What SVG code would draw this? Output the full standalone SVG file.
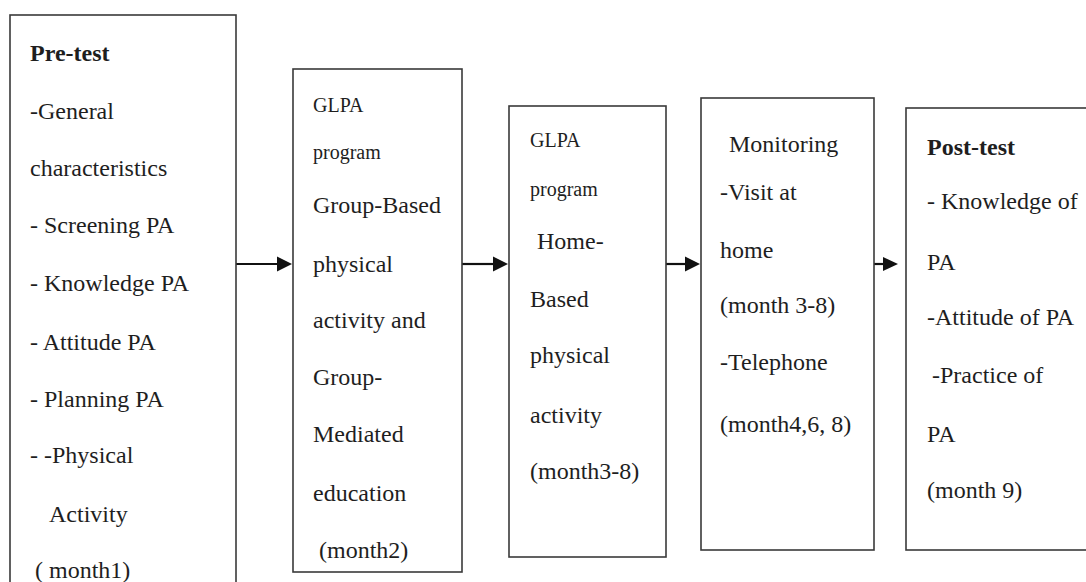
<svg xmlns="http://www.w3.org/2000/svg" width="1086" height="582" viewBox="0 0 1086 582">
<style>
.box{fill:#fff;stroke:#3a3a3a;stroke-width:1.6}
text{font-family:"Liberation Serif","Times New Roman",serif;font-size:24px;fill:#1e1e1e}
.b{font-weight:bold}
.s{font-size:20px}
.conn{stroke:#111;stroke-width:2.2;fill:none}
</style>
<defs>
<marker id="ah" markerWidth="8" markerHeight="8" refX="7" refY="4" orient="auto" markerUnits="userSpaceOnUse" viewBox="0 0 8 8">
<path d="M0,0 L8,4 L0,8 Z" fill="#111"/>
</marker>
</defs>
<rect width="1086" height="582" fill="#fff"/>
<g id="connectors">
<path class="conn" d="M236,264 H278"/><path d="M277,256.5 L292,264 L277,271.5 Z" fill="#111"/>
<path class="conn" d="M462,264 H494"/><path d="M493,256.5 L508,264 L493,271.5 Z" fill="#111"/>
<path class="conn" d="M666,264 H686"/><path d="M685,256.5 L700,264 L685,271.5 Z" fill="#111"/>
<path class="conn" d="M874,264 H884"/><path d="M883,257 L898,264 L883,271 Z" fill="#111"/>
</g>
<g id="pretest">
<rect class="box" x="10" y="15" width="226" height="600"/>
<text class="b" x="30" y="61">Pre-test</text>
<text x="30" y="119">-General</text>
<text x="30" y="176">characteristics</text>
<text x="30" y="233">- Screening PA</text>
<text x="30" y="291">- Knowledge PA</text>
<text x="30" y="350">- Attitude PA</text>
<text x="30" y="407">- Planning PA</text>
<text x="30" y="463">- -Physical</text>
<text x="49" y="522">Activity</text>
<text x="35" y="578">( month1)</text>
</g>
<g id="group-based">
<rect class="box" x="293" y="69" width="169" height="503"/>
<text class="s" x="313" y="112">GLPA</text>
<text class="s" x="313" y="159">program</text>
<text x="313" y="213">Group-Based</text>
<text x="313" y="272">physical</text>
<text x="313" y="328">activity and</text>
<text x="313" y="385">Group-</text>
<text x="313" y="442">Mediated</text>
<text x="313" y="501">education</text>
<text x="319" y="558">(month2)</text>
</g>
<g id="home-based">
<rect class="box" x="509" y="106" width="157" height="451"/>
<text class="s" x="530" y="147">GLPA</text>
<text class="s" x="530" y="196">program</text>
<text x="537" y="249">Home-</text>
<text x="530" y="307">Based</text>
<text x="530" y="363">physical</text>
<text x="530" y="423">activity</text>
<text x="530" y="479">(month3-8)</text>
</g>
<g id="monitoring">
<rect class="box" x="701" y="98" width="173" height="452"/>
<text x="729" y="152">Monitoring</text>
<text x="720" y="200">-Visit at</text>
<text x="720" y="258">home</text>
<text x="720" y="313">(month 3-8)</text>
<text x="720" y="370">-Telephone</text>
<text x="720" y="432">(month4,6, 8)</text>
</g>
<g id="posttest">
<rect class="box" x="906" y="108" width="200" height="442"/>
<text class="b" x="927" y="155">Post-test</text>
<text x="927" y="209">- Knowledge of</text>
<text x="927" y="270">PA</text>
<text x="927" y="325">-Attitude of PA</text>
<text x="932" y="383">-Practice of</text>
<text x="927" y="442">PA</text>
<text x="927" y="498">(month 9)</text>
</g>
</svg>
